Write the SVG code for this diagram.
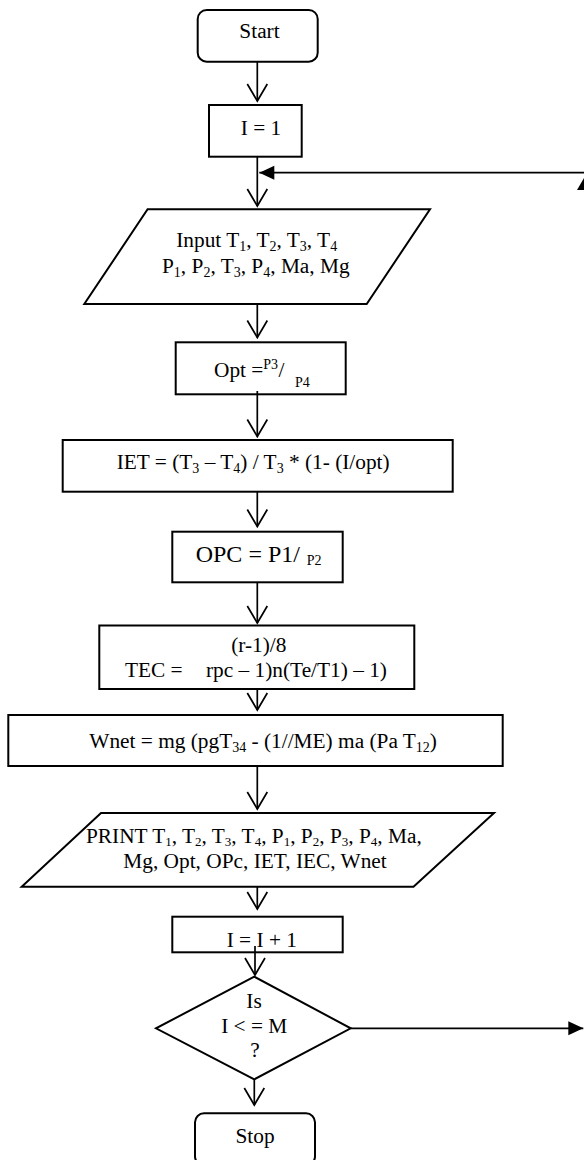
<svg xmlns="http://www.w3.org/2000/svg" width="584" height="1160" viewBox="0 0 584 1160">
<style>
.n{fill:#fff;stroke:#000;stroke-width:2}
.c{fill:none;stroke:#000;stroke-width:1.7}
.t{font-family:"Liberation Serif","Times New Roman",serif;font-size:21.33px;fill:#000}
.s{font-size:14px}
.s13{font-size:13px}
.m{text-anchor:middle}
.big{font-size:24px}
</style>
<defs>
<marker id="open" markerUnits="userSpaceOnUse" markerWidth="22" markerHeight="24" refX="17" refY="10" orient="auto" overflow="visible">
<path d="M0,0 L17,10 L0,20" fill="none" stroke="#000" stroke-width="1.7"/>
</marker>
<marker id="fill" markerUnits="userSpaceOnUse" markerWidth="16" markerHeight="16" refX="15" refY="7" orient="auto" overflow="visible">
<path d="M0,0 L15,7 L0,14 Z" fill="#000"/>
</marker>
</defs>
<rect width="584" height="1160" fill="#fff"/>

<g id="start">
<rect class="n" x="197.7" y="10" width="120" height="51.7" rx="9"/>
<text class="t m" x="259.5" y="38.3">Start</text>
</g>

<g id="init">
<rect class="n" x="209" y="105" width="92.7" height="51.7"/>
<text class="t m" x="261" y="135">I = 1</text>
</g>

<g id="input">
<polygon class="n" points="147.6,209.3 430,209.3 366.7,304 84.3,304"/>
<text class="t m" x="256.7" y="246.7">Input T<tspan class="s" dy="4">1</tspan><tspan dy="-4">, T</tspan><tspan class="s" dy="4">2</tspan><tspan dy="-4">, T</tspan><tspan class="s" dy="4">3</tspan><tspan dy="-4">, T</tspan><tspan class="s" dy="4">4</tspan></text>
<text class="t m" x="255.8" y="273.3">P<tspan class="s" dy="4">1</tspan><tspan dy="-4">, P</tspan><tspan class="s" dy="4">2</tspan><tspan dy="-4">, T</tspan><tspan class="s" dy="4">3</tspan><tspan dy="-4">, P</tspan><tspan class="s" dy="4">4</tspan><tspan dy="-4">, Ma, Mg</tspan></text>
</g>

<g id="opt">
<rect class="n" x="175.7" y="342.3" width="170" height="52"/>
<text class="t" x="214" y="376.7">Opt =<tspan class="s" x="263.3" dy="-7.7">P3</tspan><tspan x="278.5" dy="7.7">/</tspan><tspan class="s" x="295" dy="10">P4</tspan></text>
</g>

<g id="iet">
<rect class="n" x="62.7" y="440" width="390" height="51.7"/>
<text class="t" x="116.7" y="469.3">IET = (T<tspan class="s" dy="4">3</tspan><tspan dy="-4"> – T</tspan><tspan class="s" dy="4">4</tspan><tspan dy="-4">) / T</tspan><tspan class="s" dy="4">3</tspan><tspan dy="-4"> * (1- (I/opt)</tspan></text>
</g>

<g id="opc">
<rect class="n" x="172.3" y="531.7" width="170.4" height="50.6"/>
<text class="t big" x="195.7" y="561.7">OPC = P1/<tspan class="s" x="306.7" dy="3.3">P2</tspan></text>
</g>

<g id="tec">
<rect class="n" x="99.3" y="625.5" width="315" height="63.5"/>
<text class="t m" x="258.8" y="651.7">(r-1)/8</text>
<text class="t" x="125" y="676.7">TEC =<tspan x="206">rpc – 1)n(Te/T1) – 1)</tspan></text>
</g>

<g id="wnet">
<rect class="n" x="8.3" y="715" width="494.4" height="51"/>
<text class="t" x="89.3" y="748.3">Wnet = mg (pgT<tspan class="s" dy="4">34</tspan><tspan dy="-4"> - (1//ME) ma (Pa T</tspan><tspan class="s" dy="4">12</tspan><tspan dy="-4">)</tspan></text>
</g>

<g id="print">
<polygon class="n" points="101,813 494,813 413.5,886.7 21.7,886.7"/>
<text class="t" x="86" y="843.3">PRINT T<tspan class="s13" dy="3">1</tspan><tspan dy="-3">, T</tspan><tspan class="s13" dy="3">2</tspan><tspan dy="-3">, T</tspan><tspan class="s13" dy="3">3</tspan><tspan dy="-3">, T</tspan><tspan class="s13" dy="3">4</tspan><tspan dy="-3">, P</tspan><tspan class="s13" dy="3">1</tspan><tspan dy="-3">, P</tspan><tspan class="s13" dy="3">2</tspan><tspan dy="-3">, P</tspan><tspan class="s13" dy="3">3</tspan><tspan dy="-3">, P</tspan><tspan class="s13" dy="3">4</tspan><tspan dy="-3">, Ma,</tspan></text>
<text class="t" x="123.3" y="868.3">Mg, Opt, OPc, IET, IEC, Wnet</text>
</g>

<g id="incr">
<rect class="n" x="172.3" y="916.7" width="170.4" height="35.6"/>
<text class="t" x="226.7" y="946.5">I = I + 1</text>
</g>

<g id="decision">
<polygon class="n" points="254.3,976.7 350.7,1028.3 254.3,1079.3 156,1028.3"/>
<text class="t m" x="254" y="1008.3">Is</text>
<text class="t m" x="254.2" y="1033.3">I &lt; = M</text>
<text class="t m" x="255" y="1057">?</text>
</g>

<g id="stop">
<rect class="n" x="195" y="1113.3" width="120" height="52" rx="9"/>
<text class="t m" x="255" y="1143.3">Stop</text>
</g>

<g id="connectors">
<path class="c" d="M257.3,62 V101" marker-end="url(#open)"/>
<path class="c" d="M257.3,157 V206" marker-end="url(#open)"/>
<path class="c" d="M584,172.7 H259.3" marker-end="url(#fill)"/>
<path d="M584,178 L591,190 L577,190 Z" fill="#000"/>
<path class="c" d="M257.3,304 V337.5" marker-end="url(#open)"/>
<path class="c" d="M257.3,391 V436.5" marker-end="url(#open)"/>
<path class="c" d="M257.3,492 V526.5" marker-end="url(#open)"/>
<path class="c" d="M257.3,582 V623" marker-end="url(#open)"/>
<path class="c" d="M257.3,689 V710" marker-end="url(#open)"/>
<path class="c" d="M257.3,766 V809" marker-end="url(#open)"/>
<path class="c" d="M257.3,887 V909" marker-end="url(#open)"/>
<path class="c" d="M255,946 V975" marker-end="url(#open)"/>
<path class="c" d="M254.3,1079.3 V1105" marker-end="url(#open)"/>
<path class="c" d="M350.7,1028.3 H583.3" marker-end="url(#fill)"/>
</g>
</svg>
